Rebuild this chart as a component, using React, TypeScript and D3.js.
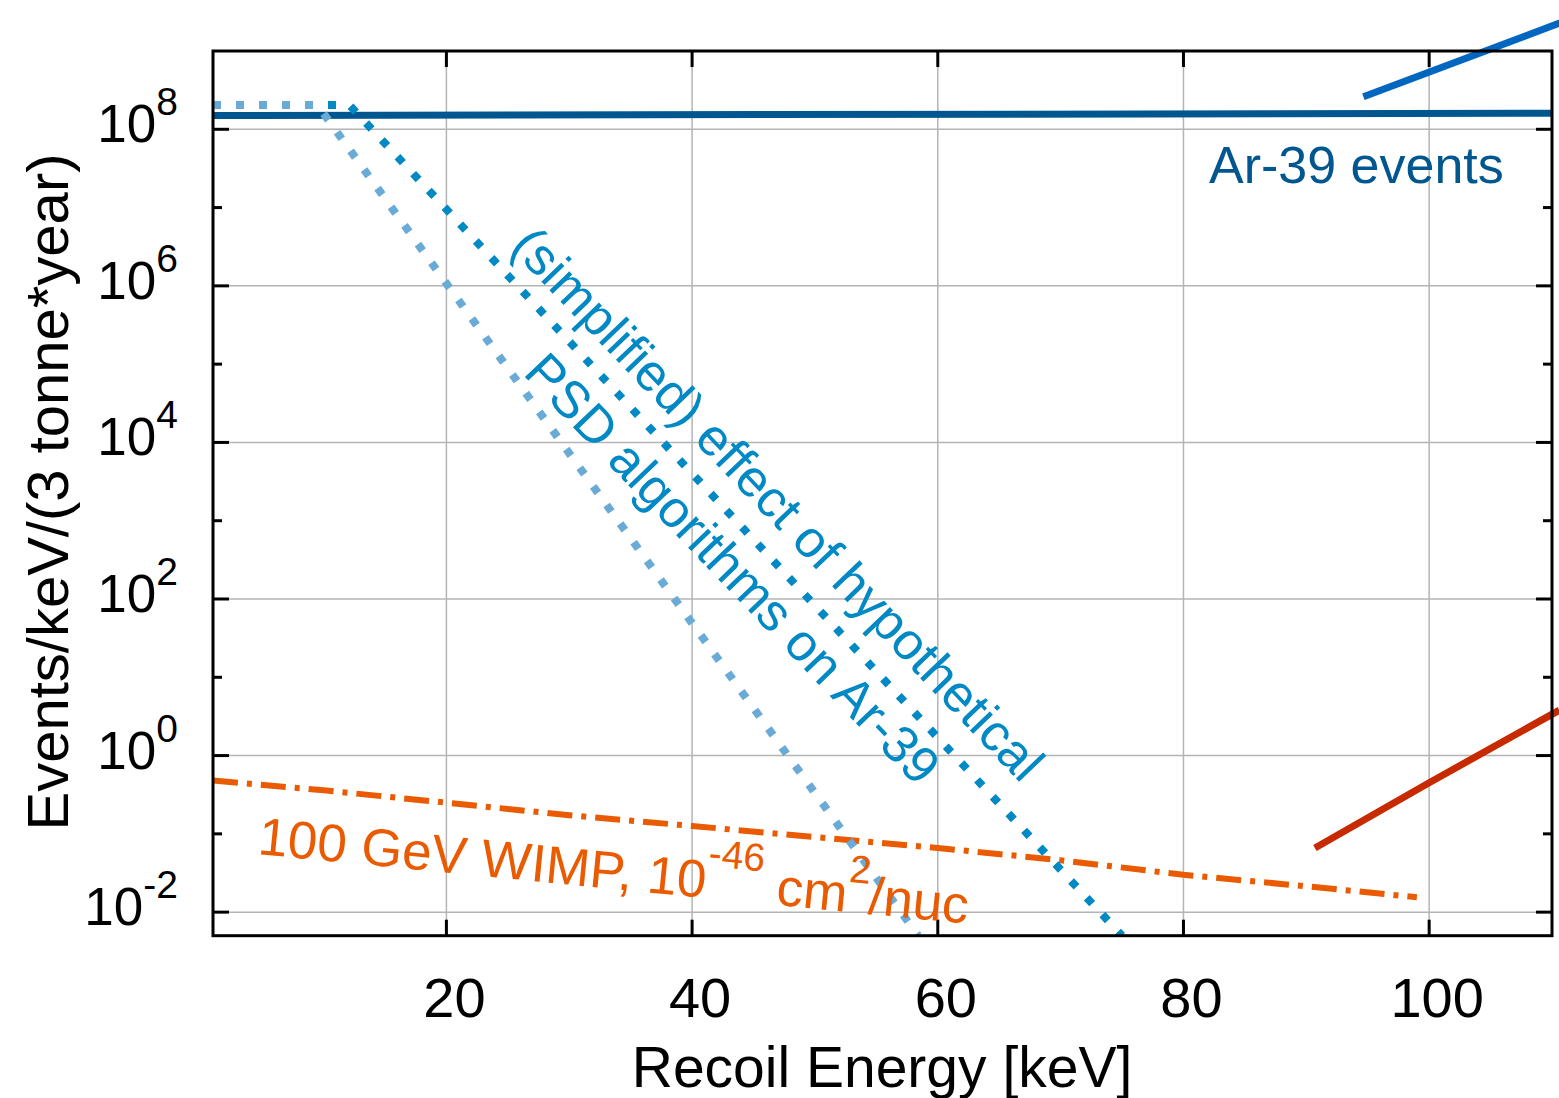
import React from "react";
import * as d3 from "d3";

const W = 1559;
const H = 1098;

// axis ticks
const xTicks = [20, 40, 60, 80, 100];
const yMajorExp = [-2, 0, 2, 4, 6, 8];
const yMinorExp = [-1, 1, 3, 5, 7];

// Ar-39 background (solid)
const ar39X = [1, 110];
const ar39Y = [1.5e8, 1.6e8];

// PSD effect (light dotted)
const psdLightX = [1, 9.5, 58.4];
const psdLightY = [2.04e8, 2.04e8, 0.005];

// PSD effect (dark dotted)
const psdDarkX = [1, 12.1, 75.0];
const psdDarkY = [2.04e8, 2.04e8, 0.005];

// 100 GeV WIMP spectrum (dash-dot)
const wimpX = [1, 10, 20, 30, 40, 50, 60, 70, 80, 90, 99];
const wimpY = [0.48, 0.36, 0.25, 0.173, 0.126, 0.091, 0.066, 0.046, 0.03, 0.0214, 0.0155];

// red line (right)
const redX = [90.7, 100, 110.6];
const redY = [0.066, 0.45, 3.8];

// blue line (top right)
const blueX = [94.65, 110.7];
const blueY = [2.6e8, 2.3e9];

const FONT = "'Liberation Sans', Arial, Helvetica, sans-serif";

const L = 213, R = 1552, T = 51, B = 935.7;

export default function App() {
  const x = d3.scaleLinear().domain([1, 110]).range([L, R]);
  const y = d3.scaleLog().domain([0.005, 1e9]).range([B, T]);

  const mk = (xs: number[], ys: number[]) =>
    d3
      .line<number>()
      .x((_, i) => x(xs[i]))
      .y((_, i) => y(ys[i]))(xs) as string;

  const cDark = "#00568f";
  const cMid = "#0089c4";
  const cLight = "#6aaad6";
  const cOrange = "#ea5a00";
  const cRed = "#c82a00";
  const cBlue = "#0066c0";
  const grid = "#b4b4b4";

  const textAngle = 46.3;

  return (
    <div style={{ position: "absolute", left: 0, top: 0 }}>
      <svg width={W} height={H} style={{ display: "block", background: "#fff" }} fontFamily={FONT}>
        <defs>
          <clipPath id="plotClip">
            <rect x={L} y={T} width={R - L} height={B - T} />
          </clipPath>
        </defs>
        <rect x={0} y={0} width={W} height={H} fill="#fff" />

        {/* grid */}
        {xTicks.map((t) => (
          <line key={"gx" + t} x1={x(t)} x2={x(t)} y1={T} y2={B} stroke={grid} strokeWidth={1.5} />
        ))}
        {yMajorExp.map((e) => (
          <line key={"gy" + e} x1={L} x2={R} y1={y(Math.pow(10, e))} y2={y(Math.pow(10, e))} stroke={grid} strokeWidth={1.5} />
        ))}

        {/* data */}
        <g clipPath="url(#plotClip)">
          <path d={mk(ar39X, ar39Y)} fill="none" stroke={cDark} strokeWidth={7} />
          <path d={mk(wimpX, wimpY)} fill="none" stroke={cOrange} strokeWidth={6} strokeDasharray="25 9 5 9" />
          <path d={mk(psdDarkX, psdDarkY)} fill="none" stroke={cMid} strokeWidth={8} strokeDasharray="8 15" />
          <path d={mk(psdLightX, psdLightY)} fill="none" stroke={cLight} strokeWidth={8} strokeDasharray="8 15" />
        </g>
        <path d={mk(redX, redY)} fill="none" stroke={cRed} strokeWidth={7} />
        <path d={mk(blueX, blueY)} fill="none" stroke={cBlue} strokeWidth={7} />

        {/* frame */}
        <rect x={L} y={T} width={R - L} height={B - T} fill="none" stroke="#000" strokeWidth={3} />

        {/* x ticks (bottom and top, inward) */}
        {xTicks.map((t) => (
          <g key={"xt" + t}>
            <line x1={x(t)} x2={x(t)} y1={B} y2={B - 16} stroke="#000" strokeWidth={3} />
            <line x1={x(t)} x2={x(t)} y1={T} y2={T + 16} stroke="#000" strokeWidth={3} />
            <text x={x(t) + 8} y={1017} fontSize={56} textAnchor="middle" fill="#000">
              {t}
            </text>
          </g>
        ))}

        {/* y ticks */}
        {yMajorExp.map((e) => {
          const yy = y(Math.pow(10, e));
          return (
            <g key={"yt" + e}>
              <line x1={L} x2={L + 16} y1={yy} y2={yy} stroke="#000" strokeWidth={3} />
              <line x1={R} x2={R - 16} y1={yy} y2={yy} stroke="#000" strokeWidth={3} />
              <text x={178} y={yy + 13} fontSize={53} textAnchor="end" fill="#000">
                <tspan>10</tspan>
                <tspan fontSize={39} dy={-27}>{String(e)}</tspan>
              </text>
            </g>
          );
        })}
        {yMinorExp.map((e) => {
          const yy = y(Math.pow(10, e));
          return (
            <g key={"ym" + e}>
              <line x1={L} x2={L + 9} y1={yy} y2={yy} stroke="#000" strokeWidth={3} />
              <line x1={R} x2={R - 9} y1={yy} y2={yy} stroke="#000" strokeWidth={3} />
            </g>
          );
        })}

        {/* axis titles */}
        <text x={882} y={1087} fontSize={57} textAnchor="middle" fill="#000">
          Recoil Energy [keV]
        </text>
        <text transform="translate(68,492) rotate(-90)" fontSize={58} textAnchor="middle" fill="#000">
          Events/keV/(3 tonne*year)
        </text>

        {/* annotations */}
        <text x={1209} y={183} fontSize={52} fill={cDark}>
          Ar-39 events
        </text>
        <text transform={`translate(509,248) rotate(${textAngle})`} fontSize={52} fill={cMid}>
          (simplified) effect of hypothetical
        </text>
        <text transform={`translate(522,374) rotate(${textAngle})`} fontSize={52} fill={cMid}>
          PSD algorithms on Ar-39
        </text>
        <text transform="translate(257,854) rotate(5.6)" fontSize={53} fill={cOrange}>
          <tspan>100 GeV WIMP, 10</tspan>
          <tspan fontSize={39} dy={-32}>-46</tspan>
          <tspan dy={32}> cm</tspan>
          <tspan fontSize={39} dy={-30}>2</tspan>
          <tspan dy={30}>/nuc</tspan>
        </text>
      </svg>
    </div>
  );
}
